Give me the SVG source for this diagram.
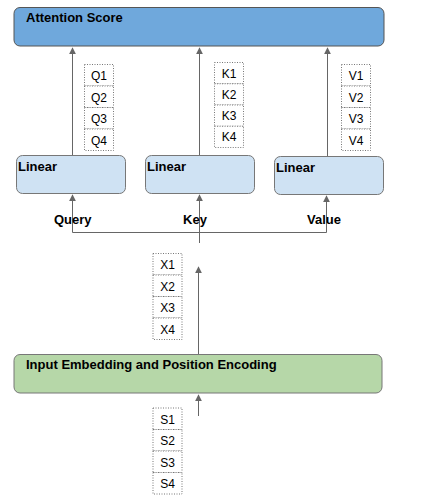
<svg xmlns="http://www.w3.org/2000/svg" width="421" height="501" viewBox="0 0 421 501">
<defs>
<marker id="ah" viewBox="0 0 10 10" refX="9" refY="5" markerWidth="7" markerHeight="7" markerUnits="userSpaceOnUse" orient="auto">
<path d="M0,0 L10,5 L0,10 Z" fill="#666"/>
</marker>
<style>
.lbl{font-family:"Liberation Sans",Arial,sans-serif;font-weight:bold;font-size:13px;fill:#000}
.cell{fill:#fff;stroke:#777;stroke-width:1;stroke-dasharray:1,1.5}
.ct{font-family:"Liberation Sans",Arial,sans-serif;font-size:12px;fill:#000;text-anchor:middle}
.lin{fill:#cfe2f3;stroke:#777;stroke-width:1}
.con{fill:none;stroke:#666;stroke-width:1}
</style>
</defs>
<rect width="421" height="501" fill="#fff"/>
<g id="attention">
<rect x="14" y="7.5" width="370" height="38.5" rx="6" fill="#6fa8dc" stroke="#555"/>
<text class="lbl" x="26" y="22">Attention Score</text>
</g>
<g id="linear-q">
<rect class="lin" x="16.5" y="155.5" width="109" height="38" rx="6"/>
<text class="lbl" x="18" y="171">Linear</text>
</g>
<g id="linear-k">
<rect class="lin" x="145.5" y="155.5" width="109" height="38" rx="6"/>
<text class="lbl" x="147" y="171">Linear</text>
</g>
<g id="linear-v">
<rect class="lin" x="274.5" y="156.5" width="109" height="38" rx="6"/>
<text class="lbl" x="276" y="172">Linear</text>
</g>
<g id="embedding">
<rect x="14" y="354.5" width="368" height="38.5" rx="6" fill="#b6d7a8" stroke="#777"/>
<text class="lbl" x="26" y="369">Input Embedding and Position Encoding</text>
</g>
<g id="q-cells">
<rect class="cell" x="84.5" y="64.5" width="29" height="21.5"/>
<rect class="cell" x="84.5" y="86" width="29" height="21.5"/>
<rect class="cell" x="84.5" y="107.5" width="29" height="21.5"/>
<rect class="cell" x="84.5" y="129" width="29" height="21.5"/>
<text class="ct" x="99" y="80">Q1</text>
<text class="ct" x="99" y="101.5">Q2</text>
<text class="ct" x="99" y="123">Q3</text>
<text class="ct" x="99" y="144.5">Q4</text>
</g>
<g id="k-cells">
<rect class="cell" x="214.5" y="62.5" width="29" height="21.25"/>
<rect class="cell" x="214.5" y="83.75" width="29" height="21.25"/>
<rect class="cell" x="214.5" y="105" width="29" height="21.25"/>
<rect class="cell" x="214.5" y="126.25" width="29" height="21.25"/>
<text class="ct" x="229" y="77.5">K1</text>
<text class="ct" x="229" y="98.75">K2</text>
<text class="ct" x="229" y="120">K3</text>
<text class="ct" x="229" y="141.25">K4</text>
</g>
<g id="v-cells">
<rect class="cell" x="341.5" y="64.5" width="29" height="21.5"/>
<rect class="cell" x="341.5" y="86" width="29" height="21.5"/>
<rect class="cell" x="341.5" y="107.5" width="29" height="21.5"/>
<rect class="cell" x="341.5" y="129" width="29" height="21.5"/>
<text class="ct" x="356" y="80">V1</text>
<text class="ct" x="356" y="101.5">V2</text>
<text class="ct" x="356" y="123">V3</text>
<text class="ct" x="356" y="144.5">V4</text>
</g>
<g id="x-cells">
<rect class="cell" x="153" y="253.5" width="29" height="21.5"/>
<rect class="cell" x="153" y="275" width="29" height="21.5"/>
<rect class="cell" x="153" y="296.5" width="29" height="21.5"/>
<rect class="cell" x="153" y="318" width="29" height="21.5"/>
<text class="ct" x="167.5" y="269">X1</text>
<text class="ct" x="167.5" y="290.5">X2</text>
<text class="ct" x="167.5" y="312">X3</text>
<text class="ct" x="167.5" y="333.5">X4</text>
</g>
<g id="s-cells">
<rect class="cell" x="153" y="408" width="29" height="21.5"/>
<rect class="cell" x="153" y="429.5" width="29" height="21.5"/>
<rect class="cell" x="153" y="451" width="29" height="21.5"/>
<rect class="cell" x="153" y="472.5" width="29" height="21.5"/>
<text class="ct" x="167.5" y="423.5">S1</text>
<text class="ct" x="167.5" y="445">S2</text>
<text class="ct" x="167.5" y="466.5">S3</text>
<text class="ct" x="167.5" y="488">S4</text>
</g>
<g id="connectors">
<line class="con" x1="72.5" y1="155" x2="72.5" y2="48" marker-end="url(#ah)"/>
<line class="con" x1="199.5" y1="155" x2="199.5" y2="48" marker-end="url(#ah)"/>
<line class="con" x1="327.5" y1="156" x2="327.5" y2="48" marker-end="url(#ah)"/>
<polyline class="con" points="72.5,232.5 326.5,232.5"/>
<line class="con" x1="72.5" y1="232.5" x2="72.5" y2="195" marker-end="url(#ah)"/>
<line class="con" x1="199.5" y1="243" x2="199.5" y2="195" marker-end="url(#ah)"/>
<line class="con" x1="326.5" y1="232.5" x2="326.5" y2="196" marker-end="url(#ah)"/>
<line class="con" x1="198.5" y1="354" x2="198.5" y2="267" marker-end="url(#ah)"/>
<line class="con" x1="198.5" y1="416" x2="198.5" y2="395" marker-end="url(#ah)"/>
</g>
<g id="edge-labels">
<text class="lbl" x="54" y="224">Query</text>
<text class="lbl" x="195" y="224" text-anchor="middle">Key</text>
<text class="lbl" x="324" y="224" text-anchor="middle">Value</text>
</g>
</svg>
